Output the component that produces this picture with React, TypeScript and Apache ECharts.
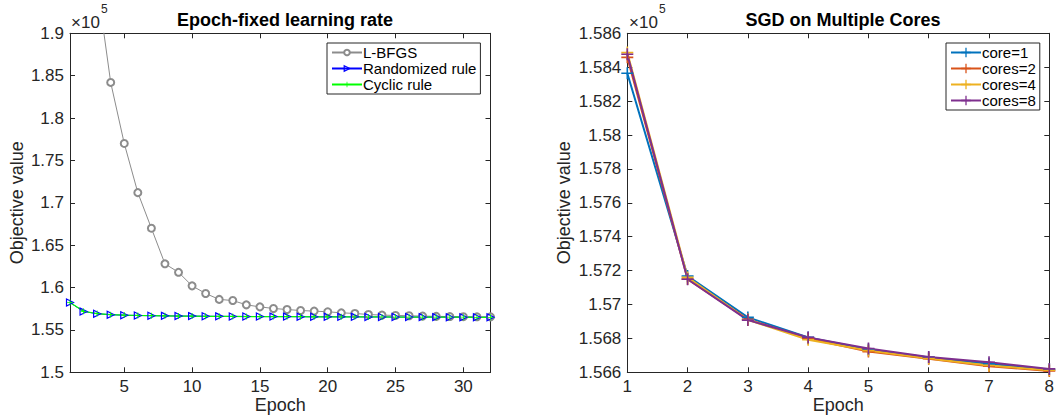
import React, { useEffect, useRef } from "react";
import * as echarts from "echarts";

// ---- Data ----
const epochsLeft = Array.from({ length: 32 }, (_, i) => i + 1);
const lbfgs = [235000, 207000, 195800, 184200, 177000, 171200, 167000, 162800, 161800, 160200, 159300, 158600, 158470, 157960, 157720, 157530, 157410, 157290, 157220, 157140, 157020, 156940, 156820, 156750, 156710, 156670, 156630, 156600, 156580, 156560, 156550, 156540];
const randomized = [158230, 157180, 156910, 156790, 156740, 156700, 156680, 156660, 156640, 156630, 156620, 156600, 156590, 156590, 156580, 156570, 156570, 156560, 156550, 156550, 156540, 156540, 156530, 156530, 156520, 156520, 156510, 156510, 156500, 156500, 156490, 156490];
const cyclic = [158250, 157200, 156930, 156800, 156750, 156710, 156680, 156660, 156640, 156630, 156610, 156600, 156590, 156580, 156580, 156570, 156560, 156560, 156550, 156550, 156540, 156540, 156530, 156530, 156520, 156520, 156510, 156510, 156500, 156500, 156490, 156490];
const leftXTicks = [5, 10, 15, 20, 25, 30];

const epochsRight = [1, 2, 3, 4, 5, 6, 7, 8];
const core1 = [158364, 157168, 156924, 156806, 156735, 156688, 156650, 156616];
const cores2 = [158458, 157150, 156912, 156800, 156722, 156680, 156636, 156608];
const cores4 = [158486, 157160, 156910, 156792, 156728, 156682, 156640, 156612];
const cores8 = [158476, 157149, 156908, 156806, 156740, 156690, 156659, 156620];

const leftTitle = "Epoch-fixed learning rate";
const rightTitle = "SGD on Multiple Cores";

const AX = "#262626";
const FONT = "Liberation Sans, Arial, Helvetica, sans-serif";
const PLUS = "path://M5.2,0H6.8V5.2H12V6.8H6.8V12H5.2V6.8H0V5.2H5.2Z";
const TRI = "path://M0,0L10,5L0,10Z";

const fmt = (v: number) => String(parseFloat((v / 1e5).toFixed(4)));

function pair(arrX: number[], arrY: number[]) {
  return arrX.map((x, i) => [x, arrY[i]]);
}

export default function App() {
  const ref = useRef<HTMLDivElement>(null);
  useEffect(() => {
    document.body.style.margin = "0";
    const chart = echarts.init(ref.current!, null, { renderer: "svg" });
    const gridL = { left: 70, right: 569.5, top: 33.3, bottom: 43.7, outerBoundsMode: "none", containLabel: false };
    const gridR = { left: 627.3, right: 10.7, top: 33.3, bottom: 43.7, outerBoundsMode: "none", containLabel: false };
    const axLine = { show: true, lineStyle: { color: AX, width: 1 } };
    const lbl = { color: AX, fontSize: 17, fontFamily: FONT };
    const xLbl = { ...lbl, lineHeight: 14, margin: 7 };
    const nameStyle = { color: AX, fontSize: 18, fontFamily: FONT };
    const xName = { name: "Epoch", nameLocation: "middle", nameGap: 24, nameMoveOverlap: false, nameTextStyle: { ...nameStyle, verticalAlign: "top", lineHeight: 17 } };
    const tick = (vals?: number[]) => ({ show: true, inside: true, length: 5, lineStyle: { color: AX }, ...(vals ? { customValues: vals } : {}) });
    const triStyle = { color: "rgba(0,0,0,0)", borderColor: "#0000ff", borderWidth: 1.2 };

    const option: any = {
      animation: false,
      backgroundColor: "#fff",
      textStyle: { fontFamily: FONT },
      title: [
        { text: leftTitle, left: 280, top: 6, textAlign: "center", textStyle: { fontSize: 18, fontWeight: "bold", color: "#000", fontFamily: FONT } },
        { text: rightTitle, left: 838, top: 6, textAlign: "center", textStyle: { fontSize: 18, fontWeight: "bold", color: "#000", fontFamily: FONT } },
      ],
      grid: [gridL, gridR],
      xAxis: [
        { type: "value", gridIndex: 0, min: 1, max: 32, position: "bottom", axisLine: axLine, axisTick: tick(leftXTicks), axisLabel: { ...xLbl, customValues: leftXTicks }, splitLine: { show: false }, ...xName },
        { type: "value", gridIndex: 0, min: 1, max: 32, position: "top", axisLine: axLine, axisTick: tick(leftXTicks), axisLabel: { show: false }, splitLine: { show: false } },
        { type: "value", gridIndex: 1, min: 1, max: 8, interval: 1, position: "bottom", axisLine: axLine, axisTick: tick(), axisLabel: xLbl, splitLine: { show: false }, ...xName },
        { type: "value", gridIndex: 1, min: 1, max: 8, interval: 1, position: "top", axisLine: axLine, axisTick: tick(), axisLabel: { show: false }, splitLine: { show: false } },
      ],
      yAxis: [
        { type: "value", gridIndex: 0, min: 150000, max: 190000, interval: 5000, position: "left", axisLine: axLine, axisTick: tick(), axisLabel: { ...lbl, formatter: fmt, margin: 6 }, splitLine: { show: false }, name: "Objective value", nameLocation: "middle", nameGap: 44, nameTextStyle: nameStyle },
        { type: "value", gridIndex: 0, min: 150000, max: 190000, interval: 5000, position: "right", axisLine: axLine, axisTick: tick(), axisLabel: { show: false }, splitLine: { show: false } },
        { type: "value", gridIndex: 1, min: 156600, max: 158600, interval: 200, position: "left", axisLine: axLine, axisTick: tick(), axisLabel: { ...lbl, formatter: fmt, margin: 6 }, splitLine: { show: false }, name: "Objective value", nameLocation: "middle", nameGap: 54, nameTextStyle: nameStyle },
        { type: "value", gridIndex: 1, min: 156600, max: 158600, interval: 200, position: "right", axisLine: axLine, axisTick: tick(), axisLabel: { show: false }, splitLine: { show: false } },
      ],
      legend: [
        {
          left: 327, top: 43, orient: "vertical", itemGap: 1, itemWidth: 30, itemHeight: 7,
          backgroundColor: "#fff", borderColor: AX, borderWidth: 1, padding: [2, 4, 2, 4],
          textStyle: { fontSize: 15, color: "#000", fontFamily: FONT, padding: [0, 0, 0, -4] },
          data: [
            { name: "L-BFGS" },
            { name: "Randomized rule", itemStyle: triStyle },
            { name: "Cyclic rule" },
          ],
        },
        {
          left: 946, top: 43, orient: "vertical", itemGap: 1, itemWidth: 30, itemHeight: 12,
          backgroundColor: "#fff", borderColor: AX, borderWidth: 1, padding: [2, 4, 2, 4],
          textStyle: { fontSize: 15, color: "#000", fontFamily: FONT, padding: [0, 0, 0, -4] },
          data: ["core=1", "cores=2", "cores=4", "cores=8"],
        },
      ],
      graphic: [
        { type: "text", left: 71, top: 14, style: { text: "×10", font: `17px ${FONT}`, fill: AX } },
        { type: "text", left: 101, top: 3, style: { text: "5", font: `12px ${FONT}`, fill: AX } },
        { type: "text", left: 629, top: 14, style: { text: "×10", font: `17px ${FONT}`, fill: AX } },
        { type: "text", left: 659, top: 3, style: { text: "5", font: `12px ${FONT}`, fill: AX } },
      ],
      series: [
        { name: "L-BFGS", type: "line", xAxisIndex: 0, yAxisIndex: 0, data: pair(epochsLeft, lbfgs), color: "#8c8c8c", lineStyle: { width: 1, color: "#8c8c8c" }, symbol: "emptyCircle", symbolSize: 7, itemStyle: { color: "#8c8c8c", borderWidth: 1 } },
        { name: "Randomized rule", type: "line", xAxisIndex: 0, yAxisIndex: 0, data: pair(epochsLeft, randomized), color: "#0000ff", lineStyle: { width: 1, color: "#0000ff" }, symbol: TRI, symbolSize: 7, itemStyle: triStyle },
        { name: "Cyclic rule", type: "line", xAxisIndex: 0, yAxisIndex: 0, data: pair(epochsLeft, cyclic), color: "#00ff00", lineStyle: { width: 1.2, color: "#00ff00" }, symbol: PLUS, symbolSize: 6, itemStyle: { color: "#00ff00" } },
        { name: "core=1", type: "line", xAxisIndex: 2, yAxisIndex: 2, data: pair(epochsRight, core1), color: "#0072BD", lineStyle: { width: 2 }, symbol: PLUS, symbolSize: 12, itemStyle: { color: "#0072BD" } },
        { name: "cores=2", type: "line", xAxisIndex: 2, yAxisIndex: 2, data: pair(epochsRight, cores2), color: "#D95319", lineStyle: { width: 2 }, symbol: PLUS, symbolSize: 12, itemStyle: { color: "#D95319" } },
        { name: "cores=4", type: "line", xAxisIndex: 2, yAxisIndex: 2, data: pair(epochsRight, cores4), color: "#EDB120", lineStyle: { width: 2 }, symbol: PLUS, symbolSize: 12, itemStyle: { color: "#EDB120" } },
        { name: "cores=8", type: "line", xAxisIndex: 2, yAxisIndex: 2, data: pair(epochsRight, cores8), color: "#7E2F8E", lineStyle: { width: 2 }, symbol: PLUS, symbolSize: 12, itemStyle: { color: "#7E2F8E" } },
      ],
    };
    chart.setOption(option);
    return () => chart.dispose();
  }, []);
  return <div ref={ref} style={{ position: "fixed", left: 0, top: 0, width: 1060, height: 416 }} />;
}
